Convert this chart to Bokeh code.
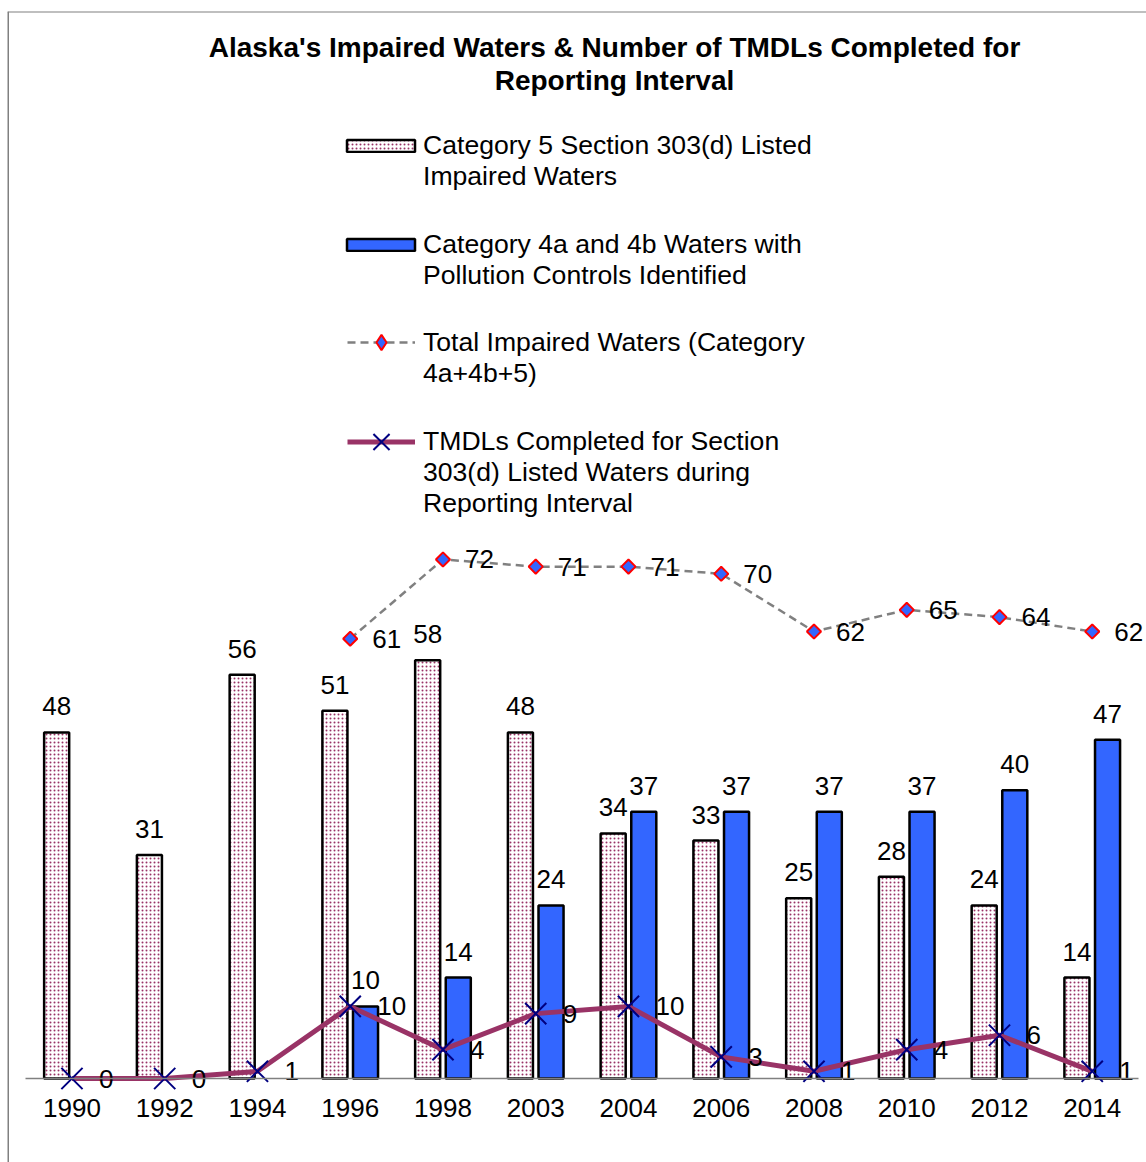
import numpy as np
from bokeh.plotting import figure
from bokeh.models import ColumnDataSource, Range1d, FixedTicker, Legend, LegendItem, Label, Span
from bokeh.transform import dodge
from bokeh.core.properties import value
from bokeh.embed import file_html
from bokeh.resources import INLINE

# ---------------- data ----------------
years = ["1990", "1992", "1994", "1996", "1998", "2003", "2004", "2006", "2008", "2010", "2012", "2014"]
cat5 = [48, 31, 56, 51, 58, 48, 34, 33, 25, 28, 24, 14]
cat4 = [None, None, None, 10, 14, 24, 37, 37, 37, 37, 40, 47]
total = [None, None, None, 61, 72, 71, 71, 70, 62, 65, 64, 62]
tmdl = [0, 0, 1, 10, 4, 9, 10, 3, 1, 4, 6, 1]

title_text = "Alaska's Impaired Waters & Number of TMDLs Completed for\nReporting Interval"
legend_cat5 = ["Category 5 Section 303(d) Listed", "Impaired Waters"]
legend_cat4 = ["Category 4a and 4b Waters with", "Pollution Controls Identified"]
legend_total = ["Total Impaired Waters (Category", "4a+4b+5)"]
legend_tmdl = ["TMDLs Completed for Section", "303(d) Listed Waters during", "Reporting Interval"]

FONT = "Liberation Sans"
PINK_DOT = "#993366"
BLUE = "#3366FF"

idx = list(range(len(years)))
idx4 = [i for i, v in enumerate(cat4) if v is not None]
idxt = [i for i, v in enumerate(total) if v is not None]

src5 = ColumnDataSource(dict(x=idx, top=cat5, label=[str(v) for v in cat5]))
src4 = ColumnDataSource(dict(x=idx4, top=[cat4[i] for i in idx4], label=[str(cat4[i]) for i in idx4]))
srct = ColumnDataSource(dict(x=idxt, y=[total[i] for i in idxt], label=[str(total[i]) for i in idxt]))
srcm = ColumnDataSource(dict(x=idx, y=tmdl, label=[str(v) for v in tmdl]))

p = figure(width=1146, height=1162,
           x_range=Range1d(-0.695, 11.585), y_range=Range1d(-11.65, 148.0),
           output_backend="svg", toolbar_location=None, y_axis_location=None,
           min_border_left=7, min_border_top=11, min_border_right=0, min_border_bottom=0)
p.grid.visible = False
p.outline_line_color = None
p.background_fill_color = "white"
p.border_fill_color = "white"

# chart border: only the left and top edges are inside the picture
p.add_layout(Span(location=p.x_range.start, dimension="height", line_color="#808080", line_width=3))
p.add_layout(Span(location=p.y_range.end, dimension="width", line_color="#808080", line_width=2))

# x axis drawn at y = 0 inside the chart area
ax = p.xaxis[0]
ax.fixed_location = 0
ax.ticker = FixedTicker(ticks=idx)
ax.major_label_overrides = {i: y for i, y in enumerate(years)}
ax.bounds = (-0.5, len(years) - 0.5)
ax.axis_line_color = "#808080"
ax.axis_line_width = 1.5
ax.major_tick_line_color = None
ax.minor_tick_line_color = None
ax.major_label_text_font = FONT
ax.major_label_text_font_size = "26px"
ax.major_label_text_color = "black"
ax.major_label_standoff = 14

BW = 0.27
DX = 0.165

r5 = p.vbar(x=dodge("x", -DX, range=p.x_range), top="top", bottom=0, width=BW, source=src5,
            fill_color="white", hatch_pattern="dot", hatch_color=PINK_DOT, hatch_scale=4, hatch_weight=3,
            line_color="black", line_width=2.5)
r4 = p.vbar(x=dodge("x", DX, range=p.x_range), top="top", bottom=0, width=BW, source=src4,
            fill_color=BLUE, line_color="black", line_width=2.5)

lm = p.line("x", "y", source=srcm, line_color="#993366", line_width=5)
sm = p.scatter("x", "y", source=srcm, marker="x", size=30, line_color="#000080", line_width=2)

lt = p.line("x", "y", source=srct, line_color="#808080", line_width=2.5, line_dash="8 5")
st = p.scatter("x", "y", source=srct, marker="square", angle=np.pi / 4, size=10,
               fill_color=BLUE, line_color="red", line_width=2)
# hidden twin used only by the legend (legend glyphs are drawn unrotated, so use a diamond there)
st_leg = p.scatter("x", "y", source=srct, marker="diamond", fill_color=BLUE, line_color="red",
                   line_width=2, visible=False)

txt = dict(text_font=value(FONT), text_font_size="26px", text_color="black")
p.text(x=dodge("x", -DX, range=p.x_range), y="top", text="label", source=src5,
       text_align="center", text_baseline="alphabetic", y_offset=-26, **txt)
p.text(x=dodge("x", DX, range=p.x_range), y="top", text="label", source=src4,
       text_align="center", text_baseline="alphabetic", y_offset=-26, **txt)
p.text(x="x", y="y", text="label", source=srct, text_align="left", text_baseline="alphabetic",
       x_offset=22, y_offset=0, **txt)
p.text(x="x", y="y", text="label", source=srcm, text_align="left", text_baseline="alphabetic",
       x_offset=27, y_offset=0, **txt)

# title
p.add_layout(Label(x=607, y=1098.5, x_units="screen", y_units="screen", text=title_text,
                   text_align="center", text_baseline="middle", text_font=FONT, text_color="black",
                   text_font_style="bold", text_font_size="28px", text_line_height=1.05))


def make_legend(lines, renderers, vx, vy, glyph_w, glyph_h, standoff, label_h=31):
    items = []
    if lines:
        items.append(LegendItem(label=lines[0], renderers=renderers))
        items += [LegendItem(label=t, renderers=[]) for t in lines[1:]]
    else:
        items.append(LegendItem(label=" ", renderers=renderers))
    leg = Legend(items=items, location=(vx, vy), glyph_width=glyph_w, glyph_height=glyph_h,
                 label_height=label_h, label_standoff=standoff, spacing=0, padding=0, margin=0,
                 border_line_color=None, background_fill_alpha=0, inactive_fill_alpha=0,
                 label_text_font=FONT, label_text_font_size="26.6px", label_text_color="black")
    p.add_layout(leg)


make_legend(legend_cat5, [r5], 331, 970.5, 85, 15, 0)
make_legend(legend_cat4, [r4], 331, 871.5, 85, 15, 0)
# line legends: text lines, and a separate glyph-only entry so the marker can be drawn larger
make_legend(legend_total, [], 340, 773.5, 68, 31, 8)
make_legend([], [lt, st_leg], 340, 801, 68, 38, 8, label_h=38)
make_legend(legend_tmdl, [], 340, 643.5, 68, 31, 8)
make_legend([], [lm, sm], 340, 692.5, 68, 57, 8, label_h=57)

open("out.html", "w").write(file_html(p, INLINE))
